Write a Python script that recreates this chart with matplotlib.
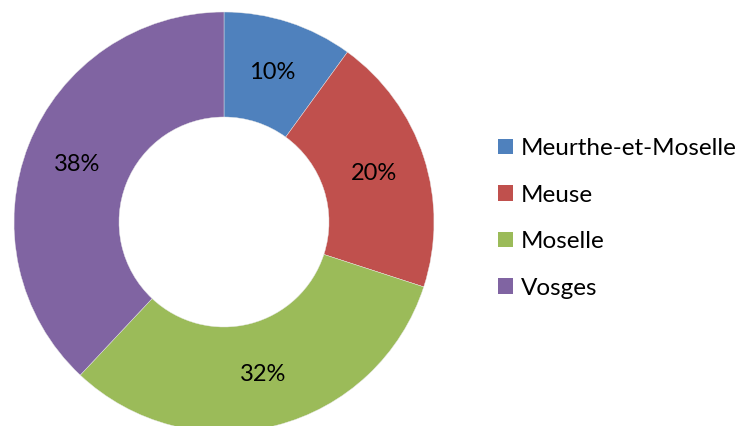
import matplotlib
matplotlib.use("Agg")
import matplotlib.pyplot as plt
from matplotlib.patches import Patch

categories = ["Meurthe-et-Moselle", "Meuse", "Moselle", "Vosges"]
values = [10, 20, 32, 38]
colors = ["#4F81BD", "#C0504D", "#9BBB59", "#8064A2"]

plt.rcParams['font.family'] = ['Lato', 'DejaVu Sans']

W, H = 742, 426
fig = plt.figure(figsize=(W / 100, H / 100), dpi=100)
cx, cy, R = 224, 222, 210
ax = fig.add_axes([(cx - R) / W, (H - cy - R) / H, 2 * R / W, 2 * R / H])
wedges, texts, autotexts = ax.pie(
    values, colors=colors, startangle=90, counterclock=False, radius=1,
    autopct=lambda p: f"{p:.0f}%", pctdistance=0.75,
    wedgeprops=dict(width=0.5, edgecolor="#e8e8e8", linewidth=0.3),
    textprops=dict(fontsize=17, color="black"))
ax.set_xlim(-1, 1)
ax.set_ylim(-1, 1)
ax.set_aspect("equal")
ax.axis("off")

handles = [Patch(facecolor=c, edgecolor="none") for c in colors]
fig.legend(handles, categories, loc="upper left",
           bbox_to_anchor=(498 / W, 1 - 138 / H), frameon=False,
           fontsize=17.5, handlelength=0.6, handleheight=0.6,
           handletextpad=0.35, labelspacing=1.05, borderaxespad=0, borderpad=0)

fig.savefig("out.png", dpi=100)
